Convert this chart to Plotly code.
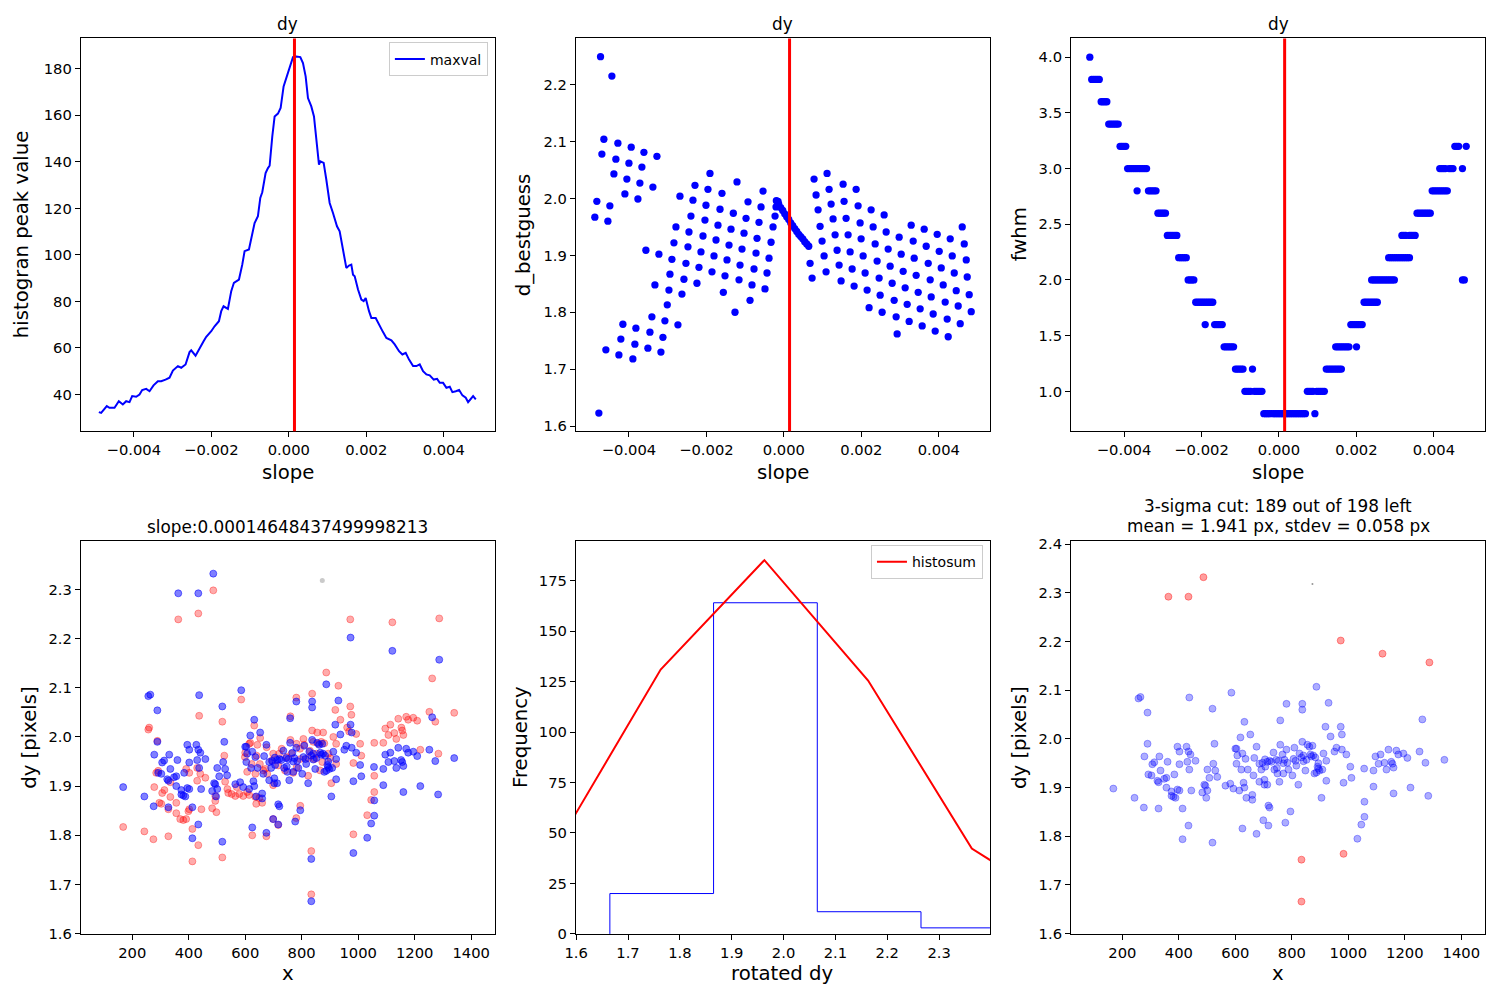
import plotly.graph_objects as go

FONT = "DejaVu Sans"
BLUE = "#0000ff"
RED = "#ff0000"

# ---------------- data ----------------
best_slope = 0.00014648437499998213

# panel 1: maxval vs slope (slope in units of 1e-3)
maxval_slope_ms = [-4.904, -4.844, -4.698, -4.629, -4.499, -4.388, -4.284, -4.198, -4.112, -4.043,
                   -3.940, -3.854, -3.785, -3.681, -3.595, -3.492, -3.380, -3.294, -3.182, -3.079,
                   -2.992, -2.863, -2.777, -2.665, -2.562, -2.519, -2.407, -2.304, -2.200, -2.131,
                   -2.002, -1.916, -1.804, -1.744, -1.684, -1.572, -1.486, -1.417, -1.287, -1.201,
                   -1.141, -1.029, -0.969, -0.883, -0.797, -0.736, -0.685, -0.599, -0.538, -0.495,
                   -0.426, -0.366, -0.280, -0.211, -0.134, -0.065, 0.021, 0.108, 0.194, 0.297,
                   0.366, 0.435, 0.495, 0.581, 0.650, 0.728, 0.779, 0.814, 0.900, 0.969,
                   1.055, 1.141, 1.244, 1.313, 1.399, 1.485, 1.554, 1.614, 1.658, 1.701,
                   1.787, 1.873, 1.933, 1.985, 2.071, 2.131, 2.243, 2.347, 2.433, 2.519,
                   2.648, 2.734, 2.846, 2.932, 3.018, 3.104, 3.208, 3.294, 3.380, 3.466,
                   3.552, 3.638, 3.742, 3.828, 3.897, 3.983, 4.069, 4.155, 4.224, 4.310,
                   4.396, 4.482, 4.568, 4.629, 4.689, 4.758, 4.827]
maxval = [32.4, 32.1, 35.0, 34.3, 34.3, 37.1, 35.7, 37.1, 36.7, 39.3,
          39.0, 40.0, 41.9, 42.4, 41.4, 43.9, 45.7, 45.7, 46.4, 47.2,
          50.3, 52.2, 51.5, 52.9, 58.2, 59.0, 56.7, 60.0, 62.9, 64.8,
          67.2, 69.3, 71.5, 75.8, 77.9, 76.8, 84.4, 88.0, 89.4, 95.8,
          101.6, 102.3, 107.3, 113.7, 116.6, 124.5, 126.9, 135.2, 137.3, 138.3,
          150.9, 159.5, 160.7, 163.1, 172.4, 176.0, 181.0, 185.0, 185.3, 185.0,
          182.4, 176.7, 167.4, 163.8, 159.5, 148.1, 138.8, 140.2, 139.5, 132.3,
          122.3, 118.0, 112.3, 110.1, 102.3, 94.4, 95.4, 95.8, 91.5, 90.8,
          85.1, 80.8, 80.1, 81.5, 75.8, 72.9, 72.9, 69.3, 66.8, 64.3,
          63.3, 61.5, 58.6, 57.2, 57.9, 55.0, 52.2, 52.2, 52.9, 50.0,
          48.6, 48.2, 46.4, 46.7, 45.0, 45.0, 42.9, 43.3, 41.0, 41.4,
          41.9, 39.6, 38.6, 36.7, 37.9, 39.3, 37.9]

# panel 2: d_bestguess vs slope (slope in units of 1e-3)
dbest_slope_ms = [-4.733, -4.440, -4.647, -4.285, -3.941, -3.613, -3.277, -4.698, -4.337, -4.000,
                  -3.665, -4.388, -4.053, -3.717, -3.381, -4.104, -3.768, -4.828, -4.492, -4.880,
                  -4.543, -4.776,
                  -3.562, -3.226, -3.329, -3.010, -4.156, -3.820, -3.407, -3.071, -2.735, -4.208,
                  -3.846, -3.458, -3.122, -4.595, -4.259, -3.898, -3.510, -3.174,
                  -1.908, -1.210, -2.295, -1.960, -1.598, -0.538, -2.683, -2.347, -2.011, -1.649,
                  -1.305, -0.926, -0.590, -2.399, -2.037, -1.701, -1.365, -0.977, -0.642, -0.228,
                  -2.786, -2.450, -2.088, -1.752, -1.416, -1.029, -0.693, -0.280, -2.838, -2.476,
                  -2.140, -1.804, -1.468, -1.081, -0.719, -0.331, -2.890, -2.528, -2.192, -1.856,
                  -1.520, -1.132, -0.771, -0.383, -2.941, -2.580, -2.244, -1.563, -1.158, -0.823,
                  -0.435, -2.967, -2.631, -1.262, -0.874, -0.487, -0.202, -0.151,
                  -0.194, -0.134, -0.082, -0.030, 0.022, 0.073, 0.125, 0.177, 0.228, 0.280,
                  0.332, 0.383, 0.435, 0.487, 0.538, 0.590, 0.642,
                  1.115, 0.779, 1.167, 1.529, 1.865, 0.831, 1.219, 1.554, 1.916, 2.252,
                  2.588, 0.883, 1.270, 1.606, 1.968, 2.304, 2.640, 2.976, 3.286, 3.622,
                  3.958, 4.294, 4.604, 0.934, 1.322, 1.658, 1.994, 2.356, 2.692, 3.028,
                  3.338, 3.674, 4.010, 4.346, 4.656, 0.986, 1.374, 1.710, 2.046, 2.407,
                  2.743, 3.079, 3.364, 3.726, 4.062, 4.398, 4.708, 1.038, 1.426, 1.762,
                  2.097, 2.459, 2.795, 3.131, 3.415, 3.777, 4.113, 4.449, 4.733, 0.676,
                  0.728, 1.089, 1.477, 1.813, 2.149, 2.485, 2.847, 3.183, 3.467, 3.803,
                  4.164, 4.500, 4.784, 2.200, 2.536, 2.898, 3.234, 3.518, 3.854, 4.216,
                  4.552, 4.836, 2.924, 3.570, 3.906, 4.242]
dbest = [2.249, 2.215, 2.104, 2.097, 2.090, 2.081, 2.074, 2.078, 2.069, 2.062,
         2.055, 2.043, 2.034, 2.027, 2.020, 2.008, 1.999, 1.995, 1.987, 1.967,
         1.960, 1.623,
         1.909, 1.902, 1.848, 1.813, 1.779, 1.772, 1.792, 1.785, 1.778, 1.753,
         1.744, 1.765, 1.756, 1.734, 1.725, 1.718, 1.737, 1.730,
         2.044, 2.029, 2.023, 2.016, 2.009, 2.013, 2.004, 1.997, 1.988, 1.981,
         1.974, 1.994, 1.985, 1.969, 1.962, 1.953, 1.946, 1.965, 1.958, 1.969,
         1.950, 1.941, 1.934, 1.927, 1.918, 1.939, 1.930, 1.950, 1.922, 1.915,
         1.906, 1.899, 1.892, 1.911, 1.904, 1.923, 1.893, 1.886, 1.879, 1.871,
         1.864, 1.883, 1.876, 1.895, 1.867, 1.858, 1.851, 1.835, 1.857, 1.848,
         1.869, 1.839, 1.832, 1.800, 1.821, 1.841, 1.985, 1.995,
         1.996, 1.990, 1.984, 1.979, 1.973, 1.968, 1.963, 1.957, 1.952, 1.947,
         1.942, 1.937, 1.933, 1.929, 1.924, 1.920, 1.916,
         2.044, 2.034, 2.016, 2.025, 2.016, 2.006, 1.990, 1.995, 1.987, 1.980,
         1.971, 1.980, 1.964, 1.965, 1.957, 1.950, 1.941, 1.932, 1.953, 1.946,
         1.937, 1.929, 1.950, 1.951, 1.936, 1.936, 1.929, 1.920, 1.911, 1.902,
         1.925, 1.916, 1.907, 1.899, 1.920, 1.925, 1.909, 1.906, 1.899, 1.890,
         1.881, 1.872, 1.895, 1.886, 1.878, 1.869, 1.892, 1.899, 1.883, 1.876,
         1.869, 1.860, 1.851, 1.843, 1.865, 1.857, 1.848, 1.838, 1.862, 1.886,
         1.860, 1.871, 1.855, 1.846, 1.839, 1.830, 1.821, 1.814, 1.835, 1.827,
         1.818, 1.811, 1.831, 1.808, 1.800, 1.792, 1.784, 1.806, 1.797, 1.788,
         1.780, 1.801, 1.762, 1.776, 1.767, 1.757]

# panel 3: fwhm vs slope index (slope = index * slope_step)
slope_step = 0.05 / 1024
fwhm_levels = [4.0, 3.8, 3.6, 3.4, 3.2, 3.0, 2.8, 2.6, 2.4, 2.2, 2.0, 1.8, 1.6, 1.4, 1.2, 1.0, 0.8]
fwhm_idx = [
    [-100],
    [-99, -98, -97, -96, -95],
    [-94, -93, -92, -91],
    [-90, -89, -88, -87, -86, -85],
    [-84, -83, -82, -81, 93, 94, 95, 99],
    [-80, -79, -78, -77, -76, -75, -74, -73, -72, -71, -70, 85, 86, 87, 88, 90, 91, 92, 97],
    [-75, -69, -68, -67, -66, -65, 81, 82, 83, 84, 85, 86, 87, 88, 89],
    [-64, -63, -62, -61, -60, 73, 74, 75, 76, 77, 78, 79, 80],
    [-59, -58, -57, -56, -55, -54, 65, 66, 67, 69, 70, 71, 72],
    [-53, -52, -51, -50, -49, 58, 59, 60, 61, 62, 63, 64, 65, 66, 67, 68, 69],
    [-48, -47, -46, -45, 49, 50, 51, 52, 53, 54, 55, 56, 57, 58, 59, 60, 61, 97, 98],
    [-44, -43, -42, -41, -40, -39, -38, -37, -36, -35, 45, 46, 47, 48, 49, 50, 51, 52],
    [-39, -34, -33, -32, -31, -30, 38, 39, 40, 41, 42, 43, 44],
    [-29, -28, -27, -26, -25, -24, 30, 31, 32, 33, 34, 35, 36, 37, 41],
    [-23, -22, -21, -20, -19, -14, 25, 26, 27, 28, 29, 30, 31, 32, 33],
    [-18, -17, -16, -15, -13, -12, -11, -10, -9, 15, 16, 17, 18, 20, 21, 22, 23, 24],
    [-8, -7, -6, -5, -4, -3, -2, -1, 0, 1, 2, 3, 4, 5, 6, 7, 8, 9, 10, 11, 12, 13, 14, 19],
]

# panel 4/6: dy vs x. Blue = rotated dy (198 points; first 9 rejected by 3-sigma cut)
rej_x = [487, 363, 434, 973, 1121, 1287, 834, 983, 834]
rej_dy = [2.332, 2.292, 2.292, 2.202, 2.175, 2.157, 1.752, 1.764, 1.666]
kept_x = [168, 243, 257, 264, 276, 278, 289, 289, 292, 303, 306, 313, 328, 324, 328, 331, 335, 348, 356, 356,
          360, 374, 374, 381, 388, 395, 402, 384, 395, 402, 402, 413, 413, 427, 434, 441, 430, 437, 434, 437,
          444, 459, 483, 490, 494, 497, 501, 501, 508, 519, 519, 522, 526, 529, 536, 565, 582, 586, 593, 600,
          604, 604, 607, 614, 618, 621, 625, 625, 629, 632, 632, 636, 639, 644, 653, 660, 660, 664, 667, 675,
          675, 685, 685, 692, 696, 699, 703, 703, 706, 713, 713, 721, 717, 721, 717, 728, 735, 738, 745, 749,
          753, 756, 759, 759, 767, 770, 774, 777, 781, 781, 784, 788, 795, 802, 806, 809, 813, 816, 823, 827,
          834, 837, 837, 837, 841, 848, 852, 855, 862, 866, 869, 873, 876, 880, 883, 887, 891, 894, 898, 905,
          908, 912, 919, 922, 922, 930, 937, 951, 958, 973, 977, 977, 983, 993, 1007, 1011, 1032, 1046, 1056, 1057,
          1057, 1089, 1089, 1096, 1107, 1114, 1128, 1135, 1142, 1152, 1156, 1160, 1160, 1170, 1177, 1195, 1209, 1220, 1252, 1262,
          1273, 1283, 1340, 887, 705, 770, 747, 841, 894]
kept_dy = [1.898, 1.879, 2.083, 2.086, 1.859, 1.964, 2.054, 1.990, 1.927, 1.925, 1.948, 1.952, 1.857, 1.914, 1.911, 1.964, 1.935, 1.918, 1.920, 1.900,
           1.953, 1.892, 1.883, 1.881, 1.879, 1.896, 1.894, 1.927, 1.984, 1.974, 1.948, 1.857, 1.794, 1.984, 1.974, 1.968, 1.953, 1.937, 1.822, 2.085,
           1.894, 1.955, 1.890, 1.906, 1.904, 1.879, 1.894, 1.937, 1.920, 2.062, 1.787, 1.949, 1.990, 1.935, 1.922, 1.904, 1.908, 2.095, 1.898, 1.980,
           1.980, 1.949, 1.966, 1.894, 2.003, 1.937, 1.970, 1.816, 1.910, 2.035, 1.900, 1.959, 1.879, 1.937, 2.009, 1.885, 1.875, 1.925, 1.961, 1.984,
           1.805, 1.949, 1.912, 1.937, 1.951, 1.833, 1.906, 1.916, 1.943, 1.906, 1.953, 1.955, 1.863, 1.859, 1.822, 1.953, 1.972, 1.937, 1.957, 1.929,
           1.955, 1.912, 2.038, 1.988, 1.968, 1.929, 1.957, 1.828, 2.072, 1.978, 1.951, 1.937, 1.851, 1.925, 1.959, 1.982, 1.955, 1.945, 1.906, 1.970,
           1.962, 2.072, 2.060, 1.994, 1.966, 1.935, 1.957, 1.988, 1.984, 1.968, 1.964, 1.986, 1.966, 1.929, 1.962, 2.107, 1.943, 1.939, 1.935, 1.879,
           1.937, 1.970, 2.025, 1.955, 1.914, 2.074, 2.005, 1.974, 1.982, 2.025, 2.009, 1.978, 1.910, 1.968, 1.943, 1.920, 1.795, 1.824, 1.939, 1.871,
           1.840, 1.935, 1.902, 1.964, 1.949, 1.968, 1.951, 1.937, 1.978, 1.953, 1.949, 1.941, 1.888, 1.976, 1.968, 1.970, 1.961, 1.900, 1.974, 2.040,
           1.951, 1.883, 1.957, 1.931, 1.958, 1.950, 1.940, 1.954, 1.950]

# Red = original dy (before rotation)
orig_x = [363, 434, 487, 972, 1121, 1287, 887, 930, 1262, 586, 837, 437, 919, 972, 976, 1252, 1340, 937, 260, 257,
          519, 632, 653, 760, 1142, 1170, 1177, 1195, 1209, 1273, 1114, 1096, 1107, 1128, 1135, 1153, 1156, 1160, 1057, 1089,
          1007, 961, 968, 993, 912, 922, 781, 837, 855, 876, 806, 841, 869, 782, 289, 618, 760, 1220, 1284, 1011,
          983, 873, 823, 905, 1057, 1057, 1046, 1032, 983, 795, 781, 834, 834, 526, 168, 243, 275, 328, 413, 519,
          278, 296, 303, 306, 314, 335, 356, 328, 356, 370, 381, 391, 399, 402, 413, 434, 445, 285, 292, 335,
          402, 430, 459, 430, 441, 483, 494, 498, 494, 529, 537, 540, 565, 579, 593, 607, 614, 639, 660, 636,
          650, 625, 675, 600, 607, 636, 614, 643, 671, 678, 699, 770, 699, 717, 809, 859, 880, 795, 823, 845,
          901, 922, 640, 652, 664, 676, 699, 729, 747, 764, 782, 720, 391, 694, 717, 741, 794, 829, 853, 865,
          894, 599, 623, 570, 552]
orig_dy = [2.239, 2.251, 2.298, 2.239, 2.233, 2.241, 2.131, 2.104, 2.119, 2.076, 2.088, 2.043, 2.055, 2.062, 2.045, 2.051, 2.049, 2.035, 2.019, 2.015,
           2.031, 2.023, 1.998, 2.042, 2.037, 2.041, 2.035, 2.039, 2.033, 2.031, 2.025, 2.017, 2.004, 2.008, 1.996, 2.019, 2.013, 2.004, 1.988, 1.988,
           1.986, 2.019, 2.011, 2.006, 2.000, 1.986, 2.080, 2.013, 2.009, 2.009, 1.996, 1.990, 1.990, 1.986, 1.992, 1.988, 1.994, 1.974, 1.966, 1.962,
           1.947, 1.949, 1.921, 1.906, 1.921, 1.888, 1.872, 1.841, 1.802, 1.860, 1.835, 1.768, 1.680, 1.962, 1.817, 1.808, 1.792, 1.798, 1.747, 1.755,
           1.898, 1.866, 1.864, 1.886, 1.892, 1.878, 1.866, 1.853, 1.845, 1.833, 1.831, 1.833, 1.849, 1.853, 1.813, 1.780, 1.853, 1.927, 1.931, 1.908,
           1.927, 1.911, 1.917, 1.937, 1.925, 1.855, 1.870, 1.847, 1.880, 1.909, 1.894, 1.886, 1.880, 1.884, 1.880, 1.888, 1.882, 1.864, 1.866, 1.878,
           1.876, 1.800, 1.798, 1.968, 1.929, 1.925, 1.986, 1.984, 1.935, 1.925, 1.902, 1.927, 1.833, 1.821, 1.984, 1.986, 1.987, 1.955, 1.957, 1.955,
           1.957, 1.945, 1.962, 1.945, 1.932, 1.979, 1.966, 1.976, 1.959, 1.966, 1.938, 1.966, 1.935, 1.952, 1.942, 1.932, 1.976, 1.972, 1.966, 1.932,
           1.966, 1.959, 1.945, 1.898, 1.884]

marker_x = [873]
marker_dy = [2.318]

# panel 5: histogram of rotated dy + histosum curve
hist_edges = [1.665, 1.865, 2.065, 2.265, 2.465]
hist_counts = [20, 164, 11, 3]
histosum_x = [1.563, 1.763, 1.963, 2.163, 2.363, 2.563]
histosum_y = [43.8, 130.9, 185.1, 125.5, 42.3, 9.9]

# ---------------- figure ----------------
fig = go.Figure()

fig.add_trace(go.Scatter(x=[s * 1e-3 for s in maxval_slope_ms], y=maxval, mode="lines",
                         line=dict(color=BLUE, width=2), name="maxval",
                         xaxis="x", yaxis="y", legend="legend"))

fig.add_trace(go.Scatter(x=[s * 1e-3 for s in dbest_slope_ms], y=dbest, mode="markers",
                         marker=dict(color=BLUE, size=7.3), showlegend=False,
                         xaxis="x2", yaxis="y2"))

fx, fy = [], []
for lev, idxs in zip(fwhm_levels, fwhm_idx):
    for k in idxs:
        fx.append(k * slope_step)
        fy.append(lev)
fig.add_trace(go.Scatter(x=fx, y=fy, mode="markers", marker=dict(color=BLUE, size=7.3),
                         showlegend=False, xaxis="x3", yaxis="y3"))

# bottom-left
all_x = rej_x + kept_x
all_dy = rej_dy + kept_dy
fig.add_trace(go.Scatter(x=orig_x, y=orig_dy, mode="markers",
                         marker=dict(color="rgba(255,0,0,0.33)", size=7,
                                     line=dict(color="rgba(255,0,0,0.33)", width=1)),
                         showlegend=False, xaxis="x4", yaxis="y4"))
fig.add_trace(go.Scatter(x=all_x, y=all_dy, mode="markers",
                         marker=dict(color="rgba(0,0,255,0.5)", size=7,
                                     line=dict(color="rgba(0,0,255,0.5)", width=1)),
                         showlegend=False, xaxis="x4", yaxis="y4"))
fig.add_trace(go.Scatter(x=marker_x, y=marker_dy, mode="markers",
                         marker=dict(color="rgba(150,150,150,0.5)", size=5),
                         showlegend=False, xaxis="x4", yaxis="y4"))

# bottom-middle: step histogram
hx, hy = [hist_edges[0]], [0]
for i, c in enumerate(hist_counts):
    hx += [hist_edges[i], hist_edges[i + 1]]
    hy += [c, c]
hx.append(hist_edges[-1])
hy.append(0)
fig.add_trace(go.Scatter(x=hx, y=hy, mode="lines", line=dict(color=BLUE, width=1),
                         showlegend=False, xaxis="x5", yaxis="y5"))
fig.add_trace(go.Scatter(x=histosum_x, y=histosum_y, mode="lines", line=dict(color=RED, width=2),
                         name="histosum", xaxis="x5", yaxis="y5", legend="legend2"))

# bottom-right
fig.add_trace(go.Scatter(x=kept_x, y=kept_dy, mode="markers",
                         marker=dict(color="rgba(0,0,255,0.32)", size=7,
                                     line=dict(color="rgba(0,0,255,0.32)", width=1)),
                         showlegend=False, xaxis="x6", yaxis="y6"))
fig.add_trace(go.Scatter(x=rej_x, y=rej_dy, mode="markers",
                         marker=dict(color="rgba(255,0,0,0.38)", size=7,
                                     line=dict(color="rgba(255,0,0,0.38)", width=1)),
                         showlegend=False, xaxis="x6", yaxis="y6"))
fig.add_trace(go.Scatter(x=marker_x, y=marker_dy, mode="markers",
                         marker=dict(color="rgba(80,80,80,0.6)", size=2),
                         showlegend=False, xaxis="x6", yaxis="y6"))

W, H = 1500, 1000
# the captured page shows the figure slightly scaled/offset; place items so they land on target pixels
SX, OX = 0.9925, 11.2
SY, OY = 0.9866, 4.5


def PX(x):
    return (x - OX) / SX


def PY(y):
    return (y - OY) / SY


FS = 1 / 0.99  # font compensation
cols = [(81, 495), (576, 990), (1071, 1485)]
rows = [(37, 430), (540, 933)]


def dom_x(c):
    return [PX(cols[c][0]) / W, min(1.0, PX(cols[c][1]) / W)]


def dom_y(r):
    return [1 - PY(rows[r][1]) / H, 1 - PY(rows[r][0]) / H]


def axis(domain, rng, dtick, tick0, fmt, anchor):
    return dict(domain=domain, range=rng, dtick=dtick, tick0=tick0, tickformat=fmt,
                anchor=anchor, showline=True, mirror=True, linecolor="black", linewidth=1,
                ticks="outside", ticklen=5, tickwidth=1, tickcolor="black",
                showgrid=False, zeroline=False,
                tickfont=dict(size=14.6 * FS, family=FONT, color="black"))


srange = [-0.005369, 0.00532]
layout = dict(
    xaxis=axis(dom_x(0), srange, 0.002, 0, ".3f", "y"),
    yaxis=axis(dom_y(0), [24.2, 193.0], 20, 0, "d", "x"),
    xaxis2=axis(dom_x(1), srange, 0.002, 0, ".3f", "y2"),
    yaxis2=axis(dom_y(0), [1.591, 2.281], 0.1, 0, ".1f", "x2"),
    xaxis3=axis(dom_x(2), srange, 0.002, 0, ".3f", "y3"),
    yaxis3=axis(dom_y(0), [0.642, 4.168], 0.5, 0, ".1f", "x3"),
    xaxis4=axis(dom_x(0), [18, 1484], 200, 0, "d", "y4"),
    yaxis4=axis(dom_y(1), [1.5995, 2.398], 0.1, 0, ".1f", "x4"),
    xaxis5=axis(dom_x(1), [1.5995, 2.398], 0.1, 0, ".1f", "y5"),
    yaxis5=axis(dom_y(1), [0, 194.5], 25, 0, "d", "x5"),
    xaxis6=axis(dom_x(2), [18, 1484], 200, 0, "d", "y6"),
    yaxis6=axis(dom_y(1), [1.5995, 2.406], 0.1, 0, ".1f", "x6"),
)

shapes = []
for xr, yr in [("x", "y"), ("x2", "y2"), ("x3", "y3")]:
    shapes.append(dict(type="line", xref=xr, yref=yr + " domain", x0=best_slope, x1=best_slope,
                       y0=0, y1=1, line=dict(color=RED, width=3), layer="above"))

ann = []


def text(x, y, s, size, angle=0):
    ann.append(dict(x=PX(x) / W, y=1 - PY(y) / H, xref="paper", yref="paper", text=s,
                    showarrow=False, textangle=angle, xanchor="center", yanchor="middle",
                    font=dict(size=size * FS, family=FONT, color="black")))


# titles
for c in range(3):
    text((cols[c][0] + cols[c][1]) / 2, 23, "dy", 16.7)
text(288, 526, "slope:0.00014648437499998213", 16.7)
text(1278, 505, "3-sigma cut: 189 out of 198 left", 16.7)
text(1278, 525, "mean = 1.941 px, stdev = 0.058 px", 16.7)
# axis labels
text(288, 471, "slope", 19.5)
text(783, 471, "slope", 19.5)
text(1278, 471, "slope", 19.5)
text(288, 973, "x", 19.5)
text(783, 973, "rotated dy", 19.5)
text(1278, 973, "x", 19.5)
text(22, 233, "histogran peak value", 19.5, -90)
text(523, 233, "d_bestguess", 19.5, -90)
text(1019, 233, "fwhm", 19.5, -90)
text(29, 736, "dy [pixels]", 19.5, -90)
text(520, 736, "Frequency", 19.5, -90)
text(1019, 736, "dy [pixels]", 19.5, -90)

fig.update_layout(
    width=W, height=H, margin=dict(l=0, r=0, t=0, b=0),
    paper_bgcolor="white", plot_bgcolor="white",
    font=dict(family=FONT, color="black"),
    shapes=shapes, annotations=ann,
    legend=dict(x=PX(488) / W, y=1 - PY(41) / H, xanchor="right", yanchor="top", bgcolor="white",
                bordercolor="#cccccc", borderwidth=1, font=dict(size=13.9 * FS, family=FONT),
                tracegroupgap=0),
    legend2=dict(x=PX(983) / W, y=1 - PY(544) / H, xanchor="right", yanchor="top", bgcolor="white",
                 bordercolor="#cccccc", borderwidth=1, font=dict(size=13.9 * FS, family=FONT),
                 tracegroupgap=0),
    **layout,
)

fig.write_html("out.html")
